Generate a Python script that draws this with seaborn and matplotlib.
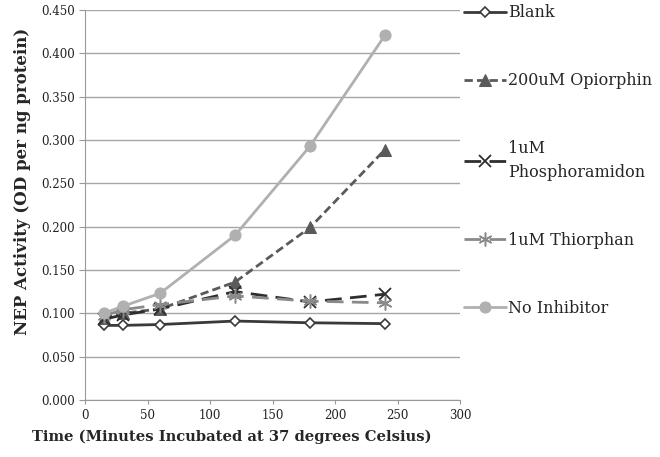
import pandas as pd
import matplotlib.pyplot as plt
import seaborn as sns

time_min = [15, 30, 60, 120, 180, 240]
blank = [0.086, 0.086, 0.087, 0.091, 0.089, 0.088]
opiorphin = [0.095, 0.100, 0.105, 0.136, 0.199, 0.289]
phosphoramidon = [0.093, 0.098, 0.105, 0.125, 0.113, 0.122]
thiorphan = [0.097, 0.104, 0.110, 0.120, 0.114, 0.112]
no_inhibitor = [0.100, 0.108, 0.123, 0.190, 0.293, 0.421]

labels = ["Blank", "200uM Opiorphin", "1uM\nPhosphoramidon", "1uM Thiorphan", "No Inhibitor"]
series = [blank, opiorphin, phosphoramidon, thiorphan, no_inhibitor]

sns.set_style("white")
plt.rcParams["font.family"] = ["DejaVu Serif"]

fig = plt.figure(figsize=(6.6, 4.57), dpi=100)
ax = fig.add_axes([0.129, 0.125, 0.568, 0.853])

styles = [
    dict(color="#3a3a3a", marker="D", markersize=5.5, markerfacecolor="white", markeredgecolor="#3a3a3a",
         markeredgewidth=1.2, linestyle="-", linewidth=2),
    dict(color="#5a5a5a", marker="^", markersize=8, markeredgecolor="#5a5a5a", linestyle=(0, (3, 1.5)), linewidth=2),
    dict(color="#2e2e2e", marker="x", markersize=8, markeredgecolor="#2e2e2e", markeredgewidth=1.3,
         linestyle=(0, (6, 3)), linewidth=2),
    dict(color="#8a8a8a", marker=(6, 2, 0), markersize=10, markeredgecolor="#8a8a8a", markeredgewidth=1.1,
         linestyle=(0, (6, 3)), linewidth=2),
    dict(color="#b0b0b0", marker="o", markersize=8, markeredgecolor="#b0b0b0", linestyle="-", linewidth=2),
]

for lab, vals, st in zip(labels, series, styles):
    df = pd.DataFrame({"time": time_min, "val": vals})
    sns.lineplot(data=df, x="time", y="val", ax=ax, label=lab, **st)

ax.set_xlim(0, 300)
ax.set_ylim(0, 0.45)
ax.set_xticks(range(0, 301, 50))
ax.set_yticks([i * 0.05 for i in range(10)])
ax.set_yticklabels([f"{i * 0.05:.3f}" for i in range(10)])
ax.tick_params(axis="both", labelsize=8.5, colors="#222222")
ax.tick_params(axis="x", length=3, color="#999999", direction="out", bottom=True)
ax.tick_params(axis="y", length=4, color="#999999", direction="out", left=True)
ax.yaxis.grid(True, color="#a6a6a6", linewidth=1)
ax.xaxis.grid(False)
for s in ["top", "right"]:
    ax.spines[s].set_visible(False)
for s in ["left", "bottom"]:
    ax.spines[s].set_color("#999999")

ax.set_xlabel("Time (Minutes Incubated at 37 degrees Celsius)", fontsize=10.6, fontweight="bold")
ax.set_ylabel("NEP Activity (OD per ng protein)", fontsize=12, fontweight="bold")
ax.xaxis.set_label_coords(0.392, -0.077)
ax.yaxis.set_label_coords(-0.144, 0.56)

leg = ax.legend(loc="upper left", bbox_to_anchor=(0.703, 0.991), bbox_transform=fig.transFigure,
                frameon=False, borderpad=0, borderaxespad=0,
                fontsize=11.5, labelspacing=3.2, handlelength=2.6, handletextpad=0.15)
leg.get_texts()[2].set_linespacing(1.5)

plt.savefig("out.png", dpi=100)
